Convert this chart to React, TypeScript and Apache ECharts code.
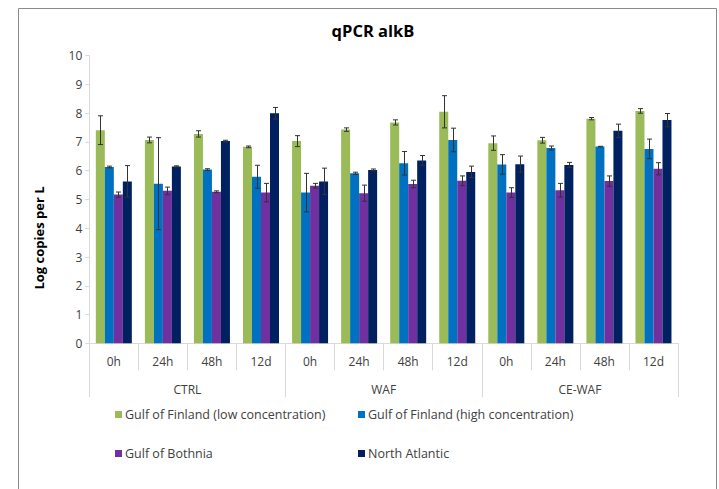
import React, { useEffect, useRef } from "react";
import * as echarts from "echarts";

const timeLabels = ["0h", "24h", "48h", "12d", "0h", "24h", "48h", "12d", "0h", "24h", "48h", "12d"];
const groupLabels = ["CTRL", "WAF", "CE-WAF"];
const seriesNames = [
  "Gulf of Finland (low concentration)",
  "Gulf of Finland (high concentration)",
  "Gulf of Bothnia",
  "North Atlantic",
];
const seriesColors = ["#9bbb59", "#0070c0", "#7030a0", "#002060"];

const finlandLow = [7.41, 7.07, 7.28, 6.83, 7.03, 7.43, 7.68, 8.05, 6.96, 7.06, 7.81, 8.08];
const finlandHigh = [6.13, 5.55, 6.04, 5.79, 5.24, 5.91, 6.26, 7.07, 6.22, 6.79, 6.84, 6.76];
const bothnia = [5.17, 5.3, 5.27, 5.24, 5.48, 5.22, 5.54, 5.65, 5.24, 5.32, 5.64, 6.07];
const atlantic = [5.63, 6.15, 7.03, 8.0, 5.63, 6.03, 6.36, 5.96, 6.23, 6.2, 7.39, 7.76];

const finlandLowErr = [0.5, 0.1, 0.11, 0.03, 0.19, 0.06, 0.09, 0.56, 0.25, 0.1, 0.04, 0.08];
const finlandHighErr = [0.03, 1.6, 0.03, 0.4, 0.67, 0.04, 0.41, 0.41, 0.34, 0.07, 0.01, 0.34];
const bothniaErr = [0.09, 0.13, 0.03, 0.32, 0.08, 0.28, 0.13, 0.17, 0.17, 0.24, 0.18, 0.21];
const atlanticErr = [0.55, 0.02, 0.03, 0.2, 0.46, 0.03, 0.17, 0.2, 0.28, 0.09, 0.23, 0.23];

const yTicks = [0, 1, 2, 3, 4, 5, 6, 7, 8, 9, 10];

const FONT = "'Open Sans', 'Noto Sans', sans-serif";
const TEXT = "#404040";
const BAR_W = 9;

export default function App() {
  const ref = useRef<HTMLDivElement>(null);

  useEffect(() => {
    document.body.style.margin = "0";
    if (!ref.current) return;
    const chart = echarts.init(ref.current, undefined, { renderer: "svg" });

    const values = [finlandLow, finlandHigh, bothnia, atlantic];
    const errs = [finlandLowErr, finlandHighErr, bothniaErr, atlanticErr];

    const errData: number[][] = [];
    values.forEach((arr, s) => {
      arr.forEach((v, i) => {
        errData.push([i, v - errs[s][i], v + errs[s][i], s]);
      });
    });

    const barSeries = values.map((arr, s) => ({
      name: seriesNames[s],
      type: "bar",
      data: arr,
      barWidth: BAR_W,
      barGap: "0%",
      itemStyle: { color: seriesColors[s] },
      xAxisIndex: 0,
    }));

    const option = {
      animation: false,
      backgroundColor: "#ffffff",
      textStyle: { fontFamily: FONT },
      title: {
        text: "qPCR alkB",
        left: 368,
        top: 17,
        textAlign: "center",
        textStyle: { fontFamily: FONT, fontSize: 16.5, fontWeight: "bold", color: "#000000" },
      },
      graphic: [
        {
          type: "rect",
          shape: { x: 18.5, y: 8.5, width: 698, height: 500 },
          style: { fill: "none", stroke: "#8a8a8a", lineWidth: 1 },
          silent: true,
        },
        {
          type: "text",
          x: 39,
          y: 238,
          rotation: Math.PI / 2,
          silent: true,
          style: {
            text: "Log copies per L",
            fontFamily: FONT,
            fontSize: 13,
            fontWeight: "bold",
            fill: "#000000",
            align: "center",
            verticalAlign: "middle",
          },
        },
      ],
      legend: [0, 1, 2, 3].map((i) => ({
        data: [seriesNames[i]],
        left: i % 2 === 0 ? 115 : 358,
        top: i < 2 ? 408 : 447,
        itemWidth: 7,
        itemHeight: 7,
        itemGap: 4,
        padding: 0,
        icon: "rect",
        textStyle: { fontFamily: FONT, fontSize: 12.5, color: TEXT, padding: [0, 0, 0, -2] },
      })),
      grid: { left: 89.3, right: 41, top: 55.7, bottom: 145.7, containLabel: false },
      xAxis: [
        {
          type: "category",
          data: timeLabels,
          position: "bottom",
          axisLine: { show: true, lineStyle: { color: "#d9d9d9", width: 1 } },
          axisTick: { show: true, interval: 0, length: 27, lineStyle: { color: "#d9d9d9" } },
          axisLabel: { interval: 0, margin: 12, fontFamily: FONT, fontSize: 12, color: TEXT },
        },
        {
          type: "category",
          data: groupLabels,
          position: "bottom",
          axisLine: { show: false },
          axisTick: { show: true, interval: 0, length: 54, lineStyle: { color: "#d9d9d9" } },
          axisLabel: { interval: 0, margin: 40, fontFamily: FONT, fontSize: 12, color: TEXT },
        },
      ],
      yAxis: {
        type: "value",
        min: 0,
        max: 10,
        interval: 1,
        axisLine: { show: true, lineStyle: { color: "#d9d9d9" } },
        axisTick: { show: true, length: 4, lineStyle: { color: "#d9d9d9" } },
        axisLabel: {
          margin: 7,
          fontFamily: FONT,
          fontSize: 12,
          color: TEXT,
          formatter: (v: number) => (yTicks.includes(v) ? String(v) : ""),
        },
        splitLine: { show: false },
      },
      series: [
        ...barSeries,
        {
          type: "custom",
          name: "errors",
          xAxisIndex: 0,
          data: errData,
          encode: { x: 0, y: [1, 2] },
          z: 10,
          silent: true,
          renderItem: (params: any, api: any) => {
            const xi = api.value(0);
            const lo = api.value(1);
            const hi = api.value(2);
            const s = api.value(3);
            const pLo = api.coord([xi, lo]);
            const pHi = api.coord([xi, hi]);
            const x = Math.round(pLo[0] + (s - 1.5) * BAR_W) + 0.5;
            const cap = 2.5;
            const style = { stroke: "#333333", lineWidth: 1 };
            return {
              type: "group",
              children: [
                { type: "line", shape: { x1: x, y1: pLo[1], x2: x, y2: pHi[1] }, style },
                { type: "line", shape: { x1: x - cap, y1: pHi[1], x2: x + cap, y2: pHi[1] }, style },
                { type: "line", shape: { x1: x - cap, y1: pLo[1], x2: x + cap, y2: pLo[1] }, style },
              ],
            };
          },
        },
      ],
    };

    chart.setOption(option as any);
    return () => {
      chart.dispose();
    };
  }, []);

  return (
    <div
      ref={ref}
      style={{ position: "absolute", left: 0, top: 0, width: 719, height: 489 }}
    />
  );
}
